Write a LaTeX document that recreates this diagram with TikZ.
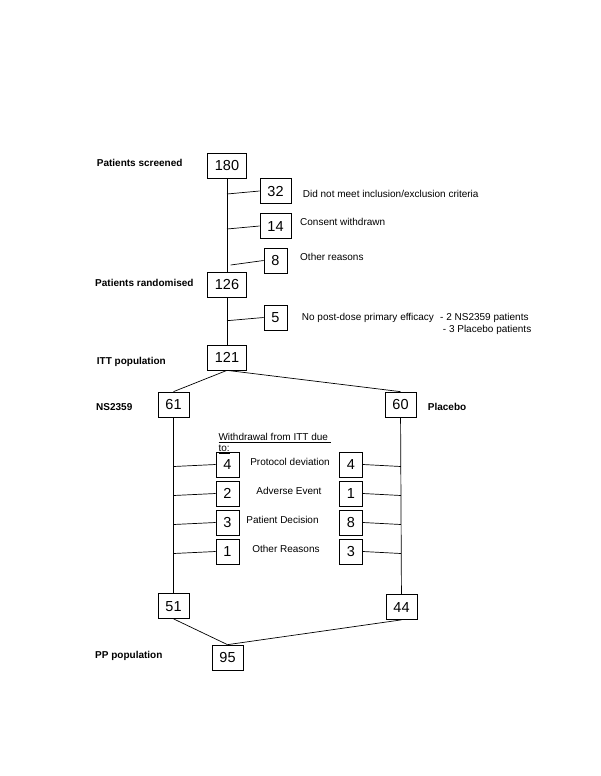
\documentclass[tikz,border=0pt]{standalone}
\usepackage{fontspec}
\setmainfont{Liberation Sans}
\usepackage{tikz}

\begin{document}
\begin{tikzpicture}[x=1pt,y=-1pt]
			\tikzstyle{boxs} = [draw, line width=0.7pt, %numbers in boxes
				font=\fontsize{14.5}{16}\selectfont, inner xsep=7.5pt, inner ysep=0pt,
				minimum height=25pt, text height=10.4pt, text depth=0pt]
			\tikzstyle{lab} = [anchor=west, inner sep=0pt, font=\fontsize{10}{12}\selectfont\bfseries,
				text height=7.2pt, text depth=0pt]
			\tikzstyle{txt} = [anchor=west, inner sep=0pt, font=\fontsize{10}{12}\selectfont,
				text height=7.2pt, text depth=0pt]
			\tikzstyle{mid} = [txt, anchor=center]
			\tikzstyle{line} = [draw, line width=0.7pt]

			\useasboundingbox (0,0) rectangle (600,776);

			% main column
			\node(Screened)[boxs] at (227,165.5) {180};
			\node(Randomised)[boxs] at (227,284.5) {126};
			\node(ITT)[boxs] at (227,357.5) {121};
			\node(ScreenedL)[lab] at (96.7,163.3) {Patients screened};
			\node(RandomisedL)[lab] at (95,282.7) {Patients randomised};
			\node(ITTL)[lab] at (96.7,361) {ITT population};
			\draw[line] (Screened) -- (Randomised);
			\draw[line] (Randomised) -- (ITT);

			% excluded before randomisation
			\node(Excl)[boxs] at (275.5,191) {32};
			\node(Consent)[boxs] at (275.5,226) {14};
			\node(OtherR)[boxs] at (275.5,260.5) {8};
			\node(NoEff)[boxs] at (275.5,317.5) {5};
			\coordinate(ExclT) at (227,194);
			\coordinate(ConsentT) at (227,229);
			\coordinate(OtherRT) at (230.7,265);
			\coordinate(NoEffT) at (227,320.7);
			\draw[line] (ExclT) -- (Excl.west);
			\draw[line] (ConsentT) -- (Consent.west);
			\draw[line] (OtherRT) -- (OtherR.west);
			\draw[line] (NoEffT) -- (NoEff.west);
			\node(ExclL)[txt] at (302.7,194) {Did not meet inclusion/exclusion criteria};
			\node(ConsentL)[txt] at (300,221.7) {Consent withdrawn};
			\node(OtherRL)[txt] at (300,257) {Other reasons};
			\node(NoEffL)[txt] at (301.7,316.7) {No post-dose primary efficacy};
			\node(NoEffDrug)[txt] at (440,316.7) {- 2 NS2359 patients};
			\node(NoEffPlac)[txt] at (442.7,329.3) {- 3 Placebo patients};

			% treatment arms
			\node(Drug)[boxs] at (173.5,404.5) {61};
			\node(Plac)[boxs] at (400.5,404.5) {60};
			\node(DrugL)[lab] at (96,407) {NS2359};
			\node(PlacL)[lab] at (427.7,407) {Placebo};
			\draw[line] (ITT.south) -- (Drug.north);
			\draw[line] (ITT.south) -- (Plac.north);

			\node(Withdrawal)[anchor=north west, inner sep=0pt, align=left,
				font=\fontsize{10}{11.5}\selectfont] at (218.3,433)
				{\underline{Withdrawal from ITT due\ }\\\underline{to:}};

			\node(DrugProt)[boxs] at (227.5,464.5) {4};
			\node(DrugAE)[boxs] at (227.5,493.5) {2};
			\node(DrugPD)[boxs] at (227.5,522.5) {3};
			\node(DrugOR)[boxs] at (227.5,551.5) {1};
			\node(PlacProt)[boxs] at (351,464.5) {4};
			\node(PlacAE)[boxs] at (351,493.5) {1};
			\node(PlacPD)[boxs] at (351,522.5) {8};
			\node(PlacOR)[boxs] at (351,551.5) {3};
			\node(ProtL)[mid] at (290,461.7) {Protocol deviation};
			\node(AEL)[mid] at (289,491) {Adverse Event};
			\node(PDL)[mid] at (282.5,520) {Patient Decision};
			\node(ORL)[mid] at (286,549) {Other Reasons};

			\coordinate(DrugProtT) at (173.7,466.5);
			\coordinate(DrugAET) at (173.7,495.5);
			\coordinate(DrugPDT) at (173.7,524.5);
			\coordinate(DrugORT) at (173.7,553.5);
			\coordinate(PlacProtT) at (400.8,466.5);
			\coordinate(PlacAET) at (400.8,495.5);
			\coordinate(PlacPDT) at (400.8,524.5);
			\coordinate(PlacORT) at (400.8,553.5);
			\draw[line] (DrugProtT) -- (DrugProt.west);
			\draw[line] (DrugAET) -- (DrugAE.west);
			\draw[line] (DrugPDT) -- (DrugPD.west);
			\draw[line] (DrugORT) -- (DrugOR.west);
			\draw[line] (PlacProt.east) -- (PlacProtT);
			\draw[line] (PlacAE.east) -- (PlacAET);
			\draw[line] (PlacPD.east) -- (PlacPDT);
			\draw[line] (PlacOR.east) -- (PlacORT);

			% per protocol
			\node(DrugPP)[boxs] at (173.5,606) {51};
			\node(PlacPP)[boxs] at (401.5,607) {44};
			\node(PP)[boxs] at (227.5,657.5) {95};
			\node(PPL)[lab] at (95,655) {PP population};
			\draw[line] (Drug) -- (DrugPP);
			\draw[line] (Plac) -- (PlacPP);
			\draw[line] (DrugPP.south) -- (PP.north);
			\draw[line] (PlacPP.south) -- (PP.north);

		\end{tikzpicture}
\end{document}
